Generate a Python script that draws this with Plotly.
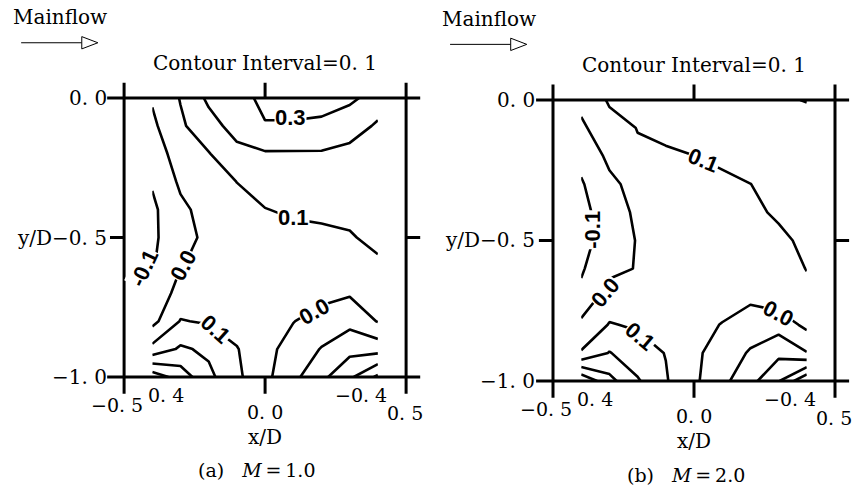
import plotly.graph_objects as go

W, H = 853, 488

# measurement grid (x/D across, y/D down from the wall)
X_POS = [-0.4, -0.3, -0.2, -0.1, 0.0, 0.1, 0.2, 0.3, 0.4]
Y_POS = [0.0, -0.1, -0.2, -0.3, -0.4, -0.5, -0.6, -0.7, -0.8, -0.9, -1.0]

LEVEL_START, LEVEL_END, LEVEL_STEP = -0.4, 0.4, 0.1

# field values, M = 1.0 (rows follow Y_POS, columns follow X_POS)
Z_M10 = [
    [0.01, 0.105, 0.22, 0.27, 0.32, 0.34, 0.34, 0.31, 0.28],
    [-0.02, 0.085, 0.16, 0.24, 0.295, 0.29, 0.28, 0.27, 0.18],
    [-0.07, 0.06, 0.095, 0.17, 0.19, 0.19, 0.19, 0.155, 0.15],
    [-0.09, 0.016, 0.06, 0.101, 0.13, 0.14, 0.14, 0.135, 0.13],
    [-0.12, -0.02, 0.035, 0.07, 0.098, 0.11, 0.115, 0.115, 0.12],
    [-0.12, -0.03, 0.02, 0.05, 0.07, 0.08, 0.085, 0.095, 0.115],
    [-0.11, -0.005, 0.03, 0.05, 0.06, 0.065, 0.07, 0.08, 0.09],
    [-0.08, 0.04, 0.06, 0.06, 0.06, 0.05, 0.03, 0.01, 0.05],
    [-0.03, 0.105, 0.09, 0.06, 0.04, 0.003, -0.04, -0.07, 0.005],
    [0.13, 0.215, 0.18, 0.105, 0.03, -0.04, -0.105, -0.17, -0.16],
    [0.46, 0.355, 0.225, 0.12, 0.025, -0.075, -0.175, -0.28, -0.42],
]

# field values, M = 2.0
Z_M20 = [
    [0.03, 0.11, 0.13, 0.15, 0.16, 0.17, 0.18, 0.19, 0.203],
    [-0.02, 0.07, 0.102, 0.125, 0.14, 0.15, 0.16, 0.165, 0.17],
    [-0.07, 0.02, 0.09, 0.085, 0.099, 0.12, 0.14, 0.15, 0.16],
    [-0.11, -0.02, 0.03, 0.05, 0.065, 0.078, 0.099, 0.13, 0.145],
    [-0.14, -0.03, 0.011, 0.035, 0.05, 0.065, 0.085, 0.11, 0.13],
    [-0.15, -0.03, 0.003, 0.03, 0.045, 0.055, 0.07, 0.085, 0.115],
    [-0.11, -0.03, 0.006, 0.04, 0.05, 0.055, 0.06, 0.07, 0.102],
    [-0.08, 0.053, 0.06, 0.06, 0.06, 0.05, 0.02, 0.06, 0.08],
    [0.025, 0.105, 0.09, 0.06, 0.04, -0.005, -0.05, -0.06, 0.025],
    [0.108, 0.205, 0.137, 0.097, 0.02, -0.045, -0.11, -0.175, -0.105],
    [0.49, 0.331, 0.211, 0.108, 0.0186, -0.074, -0.168, -0.293, -0.49],
]

# inline contour labels: (x, y, level, text angle)
LABELS_M10 = [
    (0.09, -0.07, 0.3, 0),
    (0.10, -0.43, 0.1, 0),
    (-0.43, -0.61, -0.1, -65),
    (-0.29, -0.60, 0.0, -62),
    (-0.175, -0.83, 0.1, 42),
    (0.175, -0.765, 0.0, -30),
]
LABELS_M20 = [
    (0.035, -0.215, 0.1, 22),
    (-0.36, -0.46, -0.1, -90),
    (-0.315, -0.685, 0.0, -50),
    (-0.19, -0.84, 0.1, 40),
    (0.30, -0.76, 0.0, 28),
]

# axis tick text
Y_TICK_TEXT = ["0. 0", "y/D\u22120. 5", "\u22121. 0"]
Y_TICK_VALS = [0.0, -0.5, -1.0]
X_TICK_TEXT = ["\u22120. 5", "0. 4", "0. 0", "\u22120. 4", "0. 5"]
X_TICK_POS = [(-0.525, -1.10), (-0.35, -1.065), (0.0, -1.125), (0.34, -1.065), (0.496, -1.13)]

PANELS = [
    dict(ax="", box=(123, 406, 98, 377), z=Z_M10, labels=LABELS_M10,
         caption="(a)\u00a0\u00a0\u00a0<i>M</i>\u2009=\u20091.0", xr=(-0.94, 0.6)),
    dict(ax="2", box=(553, 835, 100, 381), z=Z_M20, labels=LABELS_M20,
         caption="(b)\u00a0\u00a0\u00a0<i>M</i>\u2009=\u20092.0", xr=(-0.94, 0.56)),
]
YR = (-1.38, 0.33)

SERIF = "DejaVu Serif"
SANS = "Liberation Sans"

fig = go.Figure()
shapes = []
annotations = []
layout_axes = {}

for p in PANELS:
    left, right, top, bottom = p["box"]
    sx, sy = right - left, bottom - top
    xr = p["xr"]
    px0 = left + (xr[0] + 0.5) * sx
    px1 = left + (xr[1] + 0.5) * sx
    py_top = top - YR[1] * sy
    py_bot = top - YR[0] * sy
    xa, ya = "x" + p["ax"], "y" + p["ax"]
    layout_axes["xaxis" + p["ax"]] = dict(
        domain=[max(px0 / W, 0), min(px1 / W, 1)], range=list(xr), anchor=ya,
        visible=False, fixedrange=True)
    layout_axes["yaxis" + p["ax"]] = dict(
        domain=[max(1 - py_bot / H, 0), min(1 - py_top / H, 1)], range=list(YR),
        anchor=xa, visible=False, fixedrange=True)

    fig.add_trace(go.Contour(
        x=X_POS, y=Y_POS, z=p["z"], xaxis=xa, yaxis=ya,
        contours=dict(coloring="lines", start=LEVEL_START, end=LEVEL_END,
                      size=LEVEL_STEP, showlabels=False),
        line=dict(width=2.6, smoothing=0),
        colorscale=[[0, "black"], [1, "black"]],
        showscale=False, hoverinfo="skip"))

    # frame: box sides run past the corners, plus small ticks
    def seg(x0, y0, x1, y1, w=3):
        shapes.append(dict(type="line", xref=xa, yref=ya, x0=x0, y0=y0,
                           x1=x1, y1=y1, line=dict(color="black", width=w)))

    seg(-0.56, 0.0, 0.55, 0.0)
    seg(-0.56, -1.0, 0.55, -1.0)
    seg(-0.5, 0.055, -0.5, -1.06)
    seg(0.5, 0.055, 0.5, -1.06)
    seg(0.0, 0.0, 0.0, 0.055)
    seg(0.0, -1.0, 0.0, -1.06)
    seg(-0.55, -0.5, -0.5, -0.5)
    seg(0.5, -0.5, 0.55, -0.5)

    # mainflow arrow with open head
    ay = 0.198
    seg(-0.865, ay, -0.65, ay, w=1)
    shapes.append(dict(type="path", xref=xa, yref=ya,
                       path=f"M -0.65,{ay + 0.022} L -0.593,{ay} L -0.65,{ay - 0.022} Z",
                       line=dict(color="black", width=1), fillcolor="white"))

    def text(x, y, s, size=19, xanchor="center", yanchor="middle", angle=0,
             family=SERIF, bg=None):
        a = dict(x=x, y=y, xref=xa, yref=ya, text=s, showarrow=False,
                 xanchor=xanchor, yanchor=yanchor, textangle=angle,
                 font=dict(family=family, size=size, color="black"))
        if bg:
            a.update(bgcolor=bg, borderpad=0)
        annotations.append(a)

    text(-0.9, 0.29, "Mainflow", size=20, xanchor="left")
    text(0.0, 0.125, "Contour Interval=0. 1", size=20)

    for val, s in zip(Y_TICK_VALS, Y_TICK_TEXT):
        text(-0.555, val, s, size=20, xanchor="right")
    for (x, y), s in zip(X_TICK_POS, X_TICK_TEXT):
        text(x, y, s)
    text(0.0, -1.215, "x/D", size=20)
    text(-0.03, -1.335, p["caption"], size=19)

    for x, y, lev, ang in p["labels"]:
        text(x, y, f"<b>{lev:.1f}</b>", size=22, angle=ang, family=SANS, bg="white")

fig.update_layout(
    width=W, height=H, autosize=False,
    margin=dict(l=0, r=0, t=0, b=0),
    paper_bgcolor="white", plot_bgcolor="rgba(0,0,0,0)",
    showlegend=False, shapes=shapes, annotations=annotations,
    **layout_axes)

fig.write_html("out.html")
